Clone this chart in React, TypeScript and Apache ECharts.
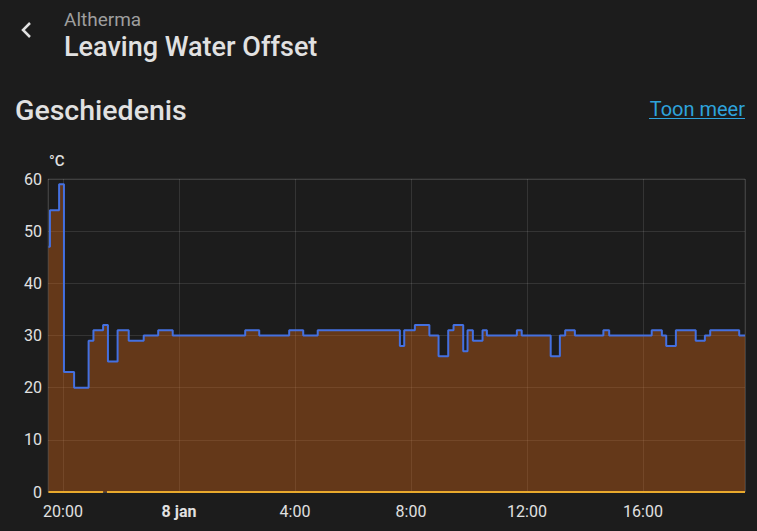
import React, { useEffect, useRef } from "react";
import * as echarts from "echarts";

const stepTimes = [
  "2024-01-07 19:30", "2024-01-07 19:33", "2024-01-07 19:52", "2024-01-07 20:02", "2024-01-07 20:23",
  "2024-01-07 20:53", "2024-01-07 21:03", "2024-01-07 21:23", "2024-01-07 21:33", "2024-01-07 21:53",
  "2024-01-07 22:16", "2024-01-07 22:47", "2024-01-07 23:17", "2024-01-07 23:47", "2024-01-08 02:17",
  "2024-01-08 02:46", "2024-01-08 03:48", "2024-01-08 04:17", "2024-01-08 04:47", "2024-01-08 07:37",
  "2024-01-08 07:46", "2024-01-08 08:08", "2024-01-08 08:38", "2024-01-08 08:57", "2024-01-08 09:17",
  "2024-01-08 09:28", "2024-01-08 09:48", "2024-01-08 09:57", "2024-01-08 10:08", "2024-01-08 10:28",
  "2024-01-08 10:37", "2024-01-08 11:39", "2024-01-08 11:49", "2024-01-08 12:49", "2024-01-08 13:08",
  "2024-01-08 13:19", "2024-01-08 13:39", "2024-01-08 14:38", "2024-01-08 14:50", "2024-01-08 16:18",
  "2024-01-08 16:39", "2024-01-08 16:48", "2024-01-08 17:08", "2024-01-08 17:49", "2024-01-08 18:08",
  "2024-01-08 18:19", "2024-01-08 19:19", "2024-01-08 19:31",
];
const offsetValues = [
  47, 54, 59, 23, 20, 29, 31, 32, 25, 31,
  29, 30, 31, 30, 31, 30, 31, 30, 31, 28,
  31, 32, 30, 26, 31, 32, 27, 31, 29, 31,
  30, 31, 30, 26, 30, 31, 30, 31, 30, 31,
  30, 28, 31, 29, 30, 31, 30, 30,
];
const zeroTimes = ["2024-01-07 19:30", "2024-01-07 21:23", "2024-01-07 21:27", "2024-01-07 21:31", "2024-01-08 19:31"];
const zeroValues: (number | null)[] = [0, 0, null, 0, 0];
const xRange = ["2024-01-07 19:29", "2024-01-08 19:31"];
const yTicks = [0, 10, 20, 30, 40, 50, 60];

function parseT(s: string): number {
  const [d, t] = s.split(" ");
  const [y, m, dd] = d.split("-").map(Number);
  const [h, mi] = t.split(":").map(Number);
  return new Date(y, m - 1, dd, h, mi).getTime();
}

export default function App() {
  const ref = useRef<HTMLDivElement>(null);
  useEffect(() => {
    if (!ref.current) return;
    const chart = echarts.init(ref.current, undefined, { renderer: "svg" });
    const font = "Roboto";
    const grid = "rgba(255,255,255,0.11)";
    chart.setOption({
      animation: false,
      backgroundColor: "#1c1c1c",
      textStyle: { fontFamily: font },
      grid: { left: 48, right: 12, top: 179, bottom: 39, show: true, borderColor: grid, borderWidth: 1 },
      xAxis: {
        type: "time",
        min: parseT(xRange[0]),
        max: parseT(xRange[1]),
        splitNumber: 6,
        minInterval: 4 * 3600 * 1000,
        maxInterval: 4 * 3600 * 1000,
        axisLine: { show: false },
        axisTick: { show: false },
        splitLine: { show: true, lineStyle: { color: grid, width: 1 } },
        axisLabel: {
          color: "#e1e1e1",
          fontSize: 16,
          fontFamily: font,
          margin: 11,
          showMinLabel: false,
          showMaxLabel: false,
          formatter: (v: number) => {
            const d = new Date(v);
            if (d.getHours() === 0 && d.getMinutes() === 0) return "{b|" + d.getDate() + " jan}";
            return d.getHours() + ":" + String(d.getMinutes()).padStart(2, "0");
          },
          rich: { b: { fontWeight: "bold", fontSize: 16, color: "#e1e1e1", fontFamily: font } },
        },
      },
      yAxis: {
        type: "value",
        min: yTicks[0],
        max: yTicks[yTicks.length - 1],
        interval: 10,
        axisLine: { show: false },
        axisTick: { show: false },
        splitLine: { show: true, lineStyle: { color: grid, width: 1 } },
        axisLabel: { color: "#e1e1e1", fontSize: 16, fontFamily: font, margin: 6 },
      },
      graphic: [
        { type: "polyline", shape: { points: [[30, 23], [23, 30], [30, 37]] }, style: { stroke: "#e1e1e1", lineWidth: 2.5, fill: null } },
        { type: "text", x: 64, y: 19, style: { text: "Altherma", fill: "#9e9e9e", fontSize: 19, fontFamily: font, verticalAlign: "middle" } },
        { type: "text", x: 64, y: 47, style: { text: "Leaving Water Offset", fill: "#e1e1e1", fontSize: 27, fontWeight: 500, fontFamily: font, verticalAlign: "middle" } },
        { type: "text", x: 15, y: 110, style: { text: "Geschiedenis", fill: "#e1e1e1", fontSize: 28.5, fontWeight: 500, fontFamily: font, verticalAlign: "middle" } },
        { type: "text", x: 745, y: 109, style: { text: "Toon meer", fill: "#2ea3dc", fontSize: 20, fontFamily: font, align: "right", verticalAlign: "middle" } },
        { type: "line", shape: { x1: 649, y1: 118.5, x2: 745, y2: 118.5 }, style: { stroke: "#2ea3dc", lineWidth: 1 } },
        { type: "text", x: 49, y: 161, style: { text: "°C", fill: "#e1e1e1", fontSize: 15, fontWeight: 500, fontFamily: font, verticalAlign: "middle" } },
      ],
      series: [
        {
          type: "line",
          step: "end",
          showSymbol: false,
          symbol: "none",
          data: stepTimes.map((t, i) => [parseT(t), offsetValues[i]]),
          lineStyle: { color: "#4470e0", width: 2 },
          itemStyle: { color: "#4470e0" },
          areaStyle: { color: "rgba(210,100,23,0.4)", opacity: 1, origin: "start" },
          z: 2,
        },
        {
          type: "line",
          showSymbol: false,
          symbol: "none",
          connectNulls: false,
          data: zeroTimes.map((t, i) => [parseT(t), zeroValues[i] === null ? "-" : zeroValues[i]]),
          lineStyle: { color: "#e8a92c", width: 2 },
          itemStyle: { color: "#e8a92c" },
          z: 3,
        },
      ],
    });
    return () => chart.dispose();
  }, []);
  return <div ref={ref} style={{ position: "fixed", left: 0, top: 0, width: 757, height: 531 }} />;
}
